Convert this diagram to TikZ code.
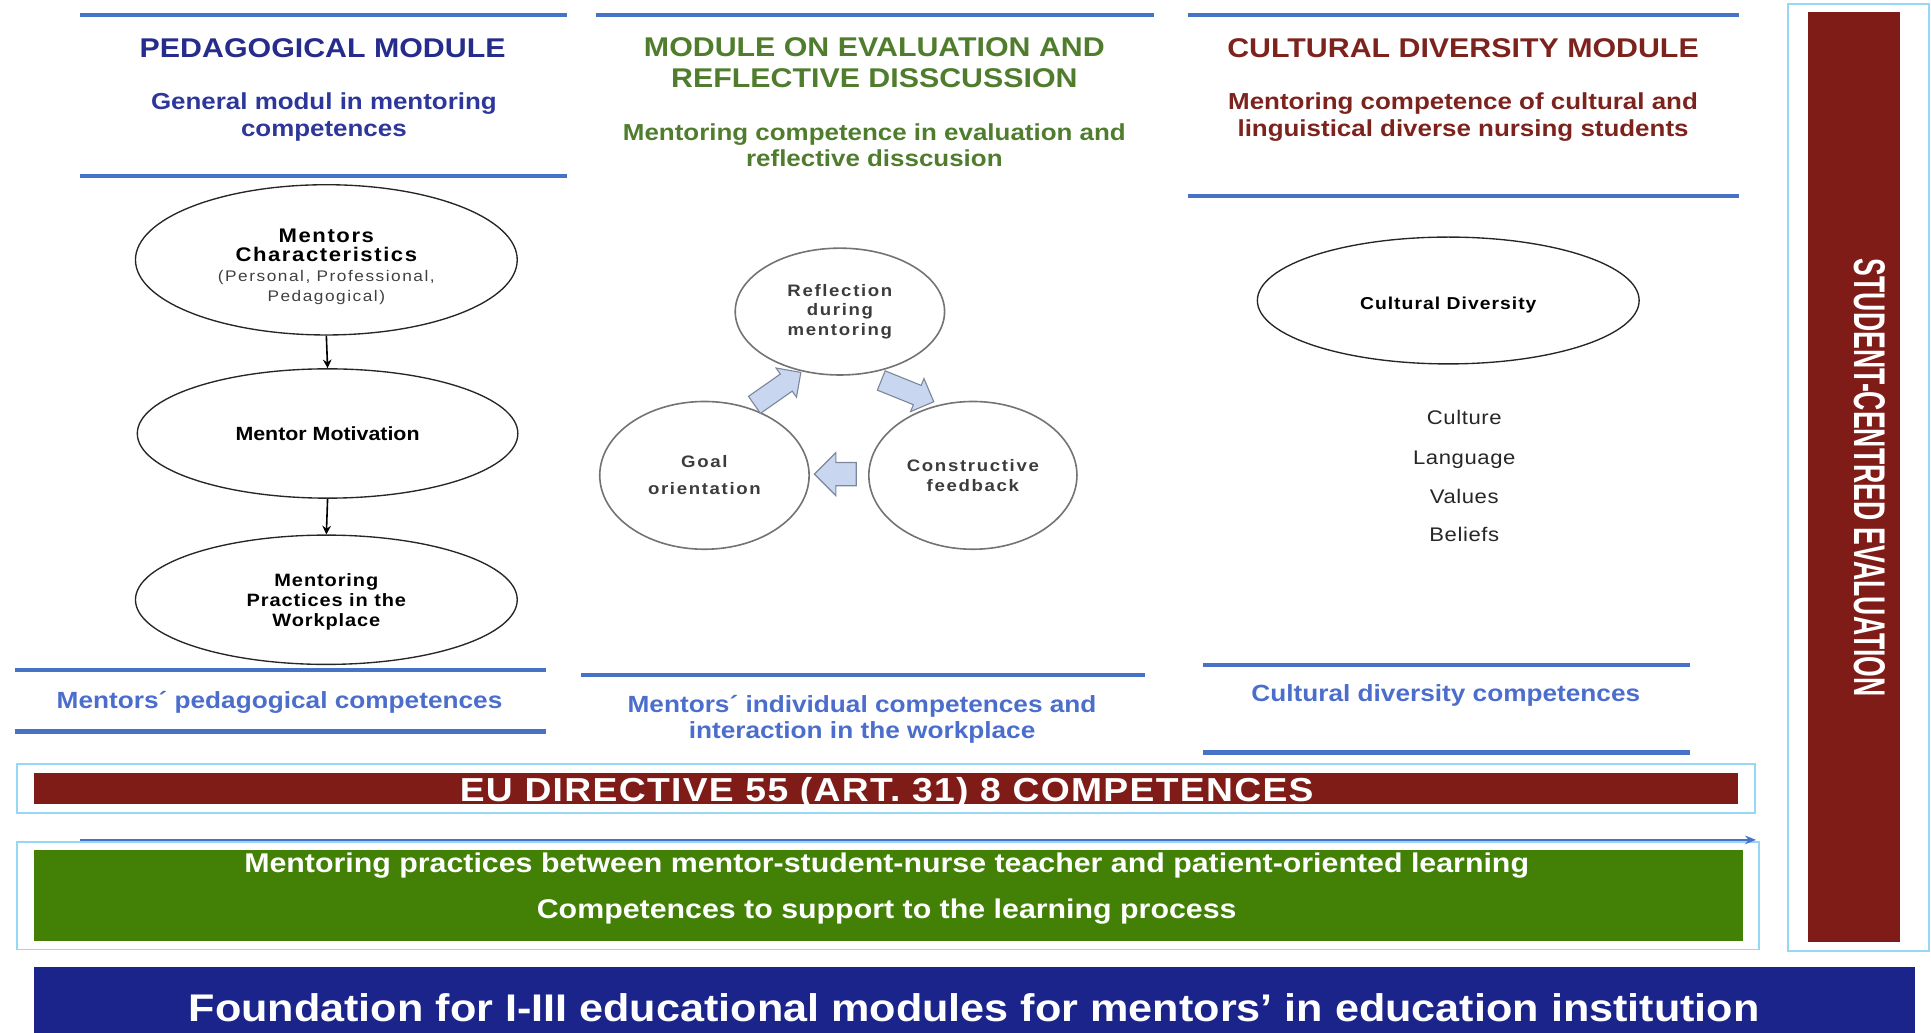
\documentclass[tikz,border=0pt]{standalone}
\usepackage{fontspec}
\setmainfont{Liberation Sans}[FakeStretch=1.12]
\newfontfamily\condf{Liberation Sans}[FakeStretch=0.6]
\usetikzlibrary{shapes.geometric,shapes.arrows,arrows.meta}
\definecolor{titleblue}{RGB}{38,44,140}
\definecolor{subblue}{RGB}{45,55,155}
\definecolor{titlegreen}{RGB}{80,125,45}
\definecolor{titlered}{RGB}{125,35,30}
\definecolor{labelblue}{RGB}{75,110,205}
\definecolor{maroon}{RGB}{128,28,24}
\definecolor{bargreen}{RGB}{66,128,6}
\definecolor{foundblue}{RGB}{27,36,138}
\definecolor{cyanline}{RGB}{150,215,245}
\definecolor{lineblue}{RGB}{70,115,200}
\definecolor{arrowfill}{RGB}{200,214,240}
\definecolor{arrowdraw}{RGB}{125,135,155}
\definecolor{cycgray}{RGB}{60,60,60}
\begin{document}
\begin{tikzpicture}[x=1pt,y=-1pt,
  rule/.style={draw=lineblue,line width=3.5pt},
  frame/.style={draw=cyanline,line width=1.6pt},
  titletxt/.style={font=\bfseries\fontsize{22}{25}\selectfont,align=center,inner sep=0pt},
  subtxt/.style={font=\bfseries\fontsize{18.8}{21.5}\selectfont,align=center,inner sep=0pt},
  ell/.style={ellipse,draw=black!85,line width=1.1pt,inner sep=0pt,align=center,
    font=\bfseries\fontsize{15.5}{16}\selectfont},
  cyc/.style={ellipse,draw=black!55,line width=1.3pt,inner sep=0pt,align=center,text=cycgray,
    font=\bfseries\fontsize{13.5}{16}\selectfont\addfontfeature{LetterSpace=10}},
  blockarr/.style={single arrow,fill=arrowfill,draw=arrowdraw,line width=0.9pt,
    inner xsep=0pt,inner ysep=8pt,minimum height=46pt,single arrow head extend=6pt},
  lbl/.style={font=\bfseries\fontsize{19}{21}\selectfont,text=labelblue,align=center,inner sep=0pt},
  item/.style={font=\fontsize{16}{18}\selectfont\addfontfeature{LetterSpace=3},text=black!85,inner sep=0pt,anchor=base},
  conn/.style={line width=1.3pt,-{Stealth[length=7pt,width=7pt]}},
  bar/.style={inner sep=0pt,outer sep=0pt}
]
\useasboundingbox (0,0) rectangle (1568,838);

% ---------- column 1 : pedagogical module ----------
\draw[rule] (65,12) -- (460,12);
\node[titletxt,text=titleblue] (t1) at (262,39) {PEDAGOGICAL MODULE};
\node[subtxt,text=subblue] (s1) at (263,95) {General modul in mentoring\\competences};
\draw[rule] (65,143) -- (460,143);
\node[ell,minimum width=310pt,minimum height=122pt] (e1) at (265,211)
  {\rule{0pt}{22pt}\fontsize{16}{16}\selectfont\addfontfeature{LetterSpace=8}Mentors\\\fontsize{16}{16}\selectfont\addfontfeature{LetterSpace=8}Characteristics\\
   \mdseries\fontsize{12.5}{13}\selectfont\addfontfeature{LetterSpace=10}\color{black!75}(Personal, Professional,\\
   \mdseries\fontsize{12.5}{13}\selectfont\addfontfeature{LetterSpace=10}\color{black!75}Pedagogical)};
\node[ell,minimum width=309pt,minimum height=105pt] (e2) at (266,352) {Mentor Motivation};
\node[ell,minimum width=310pt,minimum height=105pt,font=\bfseries\fontsize{14.5}{16.5}\selectfont\addfontfeature{LetterSpace=5}] (e3) at (265,487)
  {\rule{0pt}{14pt}Mentoring\\Practices in the\\Workplace};
\draw[conn] (e1.south) -- (e2.north);
\draw[conn] (e2.south) -- (e3.north);
\draw[rule] (12,544) -- (443,544);
\node[lbl] (l1) at (227,570) {Mentors\char"00B4\ pedagogical competences};
\draw[rule] (12,594) -- (443,594);

% ---------- column 2 : evaluation module ----------
\draw[rule] (484,12) -- (937,12);
\node[titletxt,text=titlegreen] (t2) at (710,51) {MODULE ON EVALUATION AND\\REFLECTIVE DISSCUSSION};
\node[subtxt,text=titlegreen] (s2) at (710,118) {Mentoring competence in evaluation and\\reflective disscusion};
\node[cyc,minimum width=170pt,minimum height=103pt] (cr) at (682,253) {Reflection\\during\\mentoring};
\node[cyc,minimum width=170pt,minimum height=120pt] (cg) at (572,386) {Goal\\[6pt]orientation};
\node[cyc,minimum width=169pt,minimum height=120pt] (cc) at (790,386) {Constructive\\feedback};
\node[blockarr,rotate=35] (a1) at (628,318) {};
\node[blockarr,rotate=-22] (a2) at (733,316) {};
\node[blockarr,rotate=180,minimum height=34pt,inner ysep=9pt,single arrow head extend=8pt] (a3) at (683,385) {};
\draw[rule] (472,548) -- (930,548);
\node[lbl] (l2) at (700,584) {Mentors\char"00B4\ individual competences and\\interaction in the workplace};

% ---------- column 3 : cultural diversity module ----------
\draw[rule] (965,12) -- (1412,12);
\node[titletxt,text=titlered] (t3) at (1188,39) {CULTURAL DIVERSITY MODULE};
\node[subtxt,text=titlered] (s3) at (1188,95) {Mentoring competence of cultural and\\linguistical diverse nursing students};
\draw[rule] (965,159) -- (1412,159);
\node[ell,minimum width=310pt,minimum height=103pt,font=\bfseries\fontsize{14}{16}\selectfont\addfontfeature{LetterSpace=6}] (cd) at (1176,244) {\raisebox{-7pt}[0pt][0pt]{Cultural Diversity}};
\node[item] (i1) at (1189,345) {Culture};
\node[item] (i2) at (1189,377) {Language};
\node[item] (i3) at (1189,409) {Values};
\node[item] (i4) at (1189,440) {Beliefs};
\draw[rule] (977,540) -- (1372,540);
\node[lbl] (l3) at (1174,565) {Cultural diversity competences};
\draw[rule] (977,611) -- (1372,611);

% ---------- right panel ----------
\draw[frame] (1452,3) rectangle (1566,772);
\node[bar,fill=maroon,minimum width=75pt,minimum height=755pt] (scebar) at (1505.5,387.5) {};
\node[text=white,rotate=-90,inner sep=0pt,font=\condf\bfseries\fontsize{36}{38}\selectfont] (sce) at (1518,388) {STUDENT-CENTRED EVALUATION};

% ---------- EU directive ----------
\draw[frame] (14,620) rectangle (1425,660);
\node[bar,fill=maroon,minimum width=1383pt,minimum height=25pt] (eubar) at (719.5,640.5) {};
\node[text=white,inner sep=0pt,anchor=base,font=\bfseries\fontsize{27}{28}\selectfont\addfontfeature{LetterSpace=4}] (eu) at (720,651) {EU DIRECTIVE 55 (ART. 31) 8 COMPETENCES};

% ---------- mentoring practices ----------
\draw[frame] (14,684) rectangle (1428,771);
\node[bar,fill=bargreen,minimum width=1387pt,minimum height=74pt] (gbar) at (721.5,727) {};
\coordinate (al) at (65,682);
\coordinate (ar) at (1426,682);
\draw[lineblue,line width=1.8pt,-{Stealth[length=9pt,width=7pt]}] (al) -- (ar);
\node[text=white,inner sep=0pt,font=\bfseries\fontsize{22}{24}\selectfont] (g1) at (720,703) {Mentoring practices between mentor-student-nurse teacher and patient-oriented learning};
\node[text=white,inner sep=0pt,font=\bfseries\fontsize{22}{24}\selectfont] (g2) at (720,740) {Competences to support to the learning process};

% ---------- foundation ----------
\node[bar,fill=foundblue,minimum width=1527pt,minimum height=56pt] (fbar) at (791.5,813) {};
\node[text=white,inner sep=0pt,font=\bfseries\fontsize{31.3}{34}\selectfont] (ft) at (791,818) {Foundation for I-III educational modules for mentors\char"2019\ in education institution};
\end{tikzpicture}
\end{document}
